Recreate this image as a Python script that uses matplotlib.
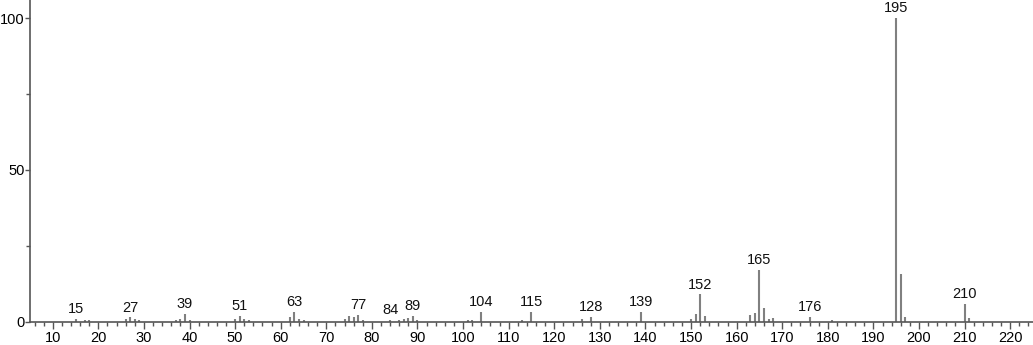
import matplotlib
matplotlib.use('Agg')
import matplotlib.pyplot as plt
from matplotlib.ticker import MultipleLocator

plt.rcParams['font.family'] = ['Liberation Sans', 'DejaVu Sans']

# m/z values and relative intensities
mz = [15, 17, 18, 26, 27, 28, 29, 37, 38, 39, 40, 50, 51, 52, 53,
      62, 63, 64, 65, 74, 75, 76, 77, 78, 84, 86, 87, 88, 89, 90,
      101, 102, 104, 113, 115, 126, 128, 139, 150, 151, 152, 153,
      163, 164, 165, 166, 167, 168, 176, 181, 195, 196, 197, 210, 211]
intensity = [0.9, 0.5, 0.5, 1.0, 1.4, 0.8, 0.5, 0.5, 1.0, 2.5, 0.7, 1.0, 2.0, 0.8, 0.5,
             1.5, 3.3, 0.8, 0.5, 0.8, 2.0, 1.5, 2.2, 0.5, 0.7, 0.5, 0.8, 1.2, 1.8, 0.5,
             0.7, 0.7, 3.3, 0.5, 3.2, 1.0, 1.7, 3.3, 1.0, 2.7, 9.0, 2.0,
             2.3, 3.0, 17.0, 4.6, 0.8, 1.2, 1.6, 0.5, 100.0, 15.8, 1.6, 6.0, 1.1]

# peaks that carry an m/z label
labeled = [15, 27, 39, 51, 63, 77, 84, 89, 104, 115, 128, 139, 152, 165, 176, 195, 210]

fig = plt.figure(figsize=(10.33, 3.45), dpi=100)
ax = fig.add_axes([0.029, 0.0675, 0.971, 0.9325])

ax.vlines(mz, 0, intensity, colors='#808080', linewidth=1.5)

for m, h in zip(mz, intensity):
    if m in labeled:
        ax.annotate(str(m), (m, h), xytext=(0, 2), textcoords='offset points',
                    ha='center', va='bottom', fontsize=10.5, color='#111111')

ax.set_xlim(5, 225)
ax.set_ylim(0, 106)
ax.xaxis.set_major_locator(MultipleLocator(10))
ax.xaxis.set_minor_locator(MultipleLocator(2))
ax.set_yticks([0, 50, 100])
ax.yaxis.set_minor_locator(MultipleLocator(25))

for s in ['top', 'right']:
    ax.spines[s].set_visible(False)
for s in ['left', 'bottom']:
    ax.spines[s].set_color('#555555')
    ax.spines[s].set_linewidth(1.2)

ax.tick_params(which='major', length=5, width=1, color='#555555', labelsize=10.5, pad=2)
ax.tick_params(which='minor', length=3, width=1, color='#555555')
ax.tick_params(axis='y', which='major', length=3.5, pad=0.5)

fig.savefig('out.png', dpi=100)
